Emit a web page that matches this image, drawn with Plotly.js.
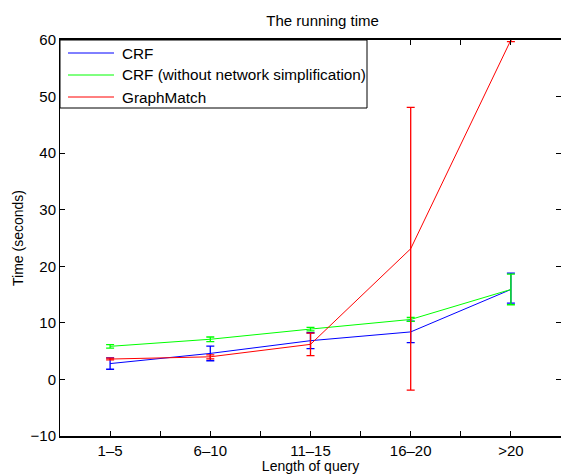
<!DOCTYPE html>
<html>
<head>
<meta charset="utf-8">
<script src="https://cdn.plot.ly/plotly-3.0.1.min.js"></script>
<style>html,body{margin:0;padding:0;background:#fff;}#chart{width:561px;height:474px;}</style>
</head>
<body>
<div id="chart"></div>
<script>
const categories = ["1\u20135", "6\u201310", "11\u201315", "16\u201320", ">20"];
const crfMean = [2.8, 4.6, 6.85, 8.4, 15.9];
const crfErrUp = [1.0, 1.3, 1.4, 1.9, 2.9];
const crfErrDown = [1.0, 1.3, 1.4, 1.9, 2.4];
const crfNoSimpMean = [5.85, 7.1, 8.9, 10.6, 15.9];
const crfNoSimpErr = [0.3, 0.4, 0.3, 0.35, 2.7];
const graphMatchMean = [3.6, 4.0, 6.2, 23.1, 60];
const graphMatchErr = [0.15, 0.35, 2.0, 25.0, 0.3];
const seriesNames = ["CRF", "CRF (without network simplification)", "GraphMatch"];
const seriesColors = ["#0000ff", "#00ff00", "#ff0000"];
const yTicks = [-10, 0, 10, 20, 30, 40, 50, 60];

const xIdx = categories.map((c, i) => i + 1);
const tickVals = [];
const tickText = [];
categories.forEach((c, i) => {
  tickVals.push(i + 1); tickText.push(c);
  if (i < categories.length - 1) { tickVals.push(i + 1.5); tickText.push(""); }
});

function trace(name, y, up, down, color) {
  return {
    type: "scatter", mode: "lines", name: name, x: xIdx, y: y,
    line: {color: color, width: 1},
    error_y: {type: "data", symmetric: false, array: up, arrayminus: down,
              color: color, thickness: 1.3, width: 4}
  };
}

const data = [
  trace(seriesNames[0], crfMean, crfErrUp, crfErrDown, seriesColors[0]),
  trace(seriesNames[1], crfNoSimpMean, crfNoSimpErr, crfNoSimpErr, seriesColors[1]),
  trace(seriesNames[2], graphMatchMean, graphMatchErr, graphMatchErr, seriesColors[2])
];

const fam = "Liberation Sans, Arial, sans-serif";

// legend box drawn in paper coordinates (plot area: 501 x 396 px)
const W = 501, H = 396;
const shapes = [{type: "rect", xref: "paper", yref: "paper", x0: 0, x1: 307 / W, y0: 1 - 68 / H, y1: 1,
                 fillcolor: "#fff", line: {color: "#000", width: 1}, layer: "above"}];
const annotations = [];
seriesNames.forEach((n, i) => {
  const yy = 1 - (13 + 22 * i) / H;
  shapes.push({type: "line", xref: "paper", yref: "paper", x0: 8 / W, x1: 54 / W, y0: yy, y1: yy,
               line: {color: seriesColors[i], width: 1}, layer: "above"});
  annotations.push({xref: "paper", yref: "paper", x: 60 / W, y: yy, xanchor: "left", yanchor: "middle",
                    text: n, showarrow: false, font: {family: fam, size: 15.3, color: "#000"}});
});

const layout = {
  width: 561, height: 474,
  margin: {l: 60, r: 0, t: 40, b: 38, pad: 0},
  paper_bgcolor: "#fff", plot_bgcolor: "#fff",
  font: {family: fam, size: 15, color: "#000"},
  title: {text: "The running time", font: {family: fam, size: 15, color: "#000"},
          x: 0.575, xanchor: "center", y: 0.957, yanchor: "middle"},
  showlegend: false,
  shapes: shapes,
  annotations: annotations,
  xaxis: {
    range: [0.5, 5.5], tickmode: "array", tickvals: tickVals, ticktext: tickText,
    ticks: "inside", ticklen: 5, tickcolor: "#000", showgrid: false, zeroline: false,
    showline: true, linecolor: "#000", linewidth: 2, mirror: "allticks",
    tickfont: {family: fam, size: 15, color: "#000"},
    title: {text: "Length of query", font: {family: fam, size: 14, color: "#000"}, standoff: 1}
  },
  yaxis: {
    range: [-10, 60], tickmode: "array", tickvals: yTicks,
    ticks: "inside", ticklen: 5, tickcolor: "#000", showgrid: false, zeroline: false,
    showline: true, linecolor: "#000", linewidth: 1, mirror: "allticks",
    tickfont: {family: fam, size: 15, color: "#000"},
    title: {text: "Time (seconds)", font: {family: fam, size: 14, color: "#000"}, standoff: 3}
  }
};

Plotly.newPlot("chart", data, layout, {displayModeBar: false, staticPlot: true});
</script>
</body>
</html>
